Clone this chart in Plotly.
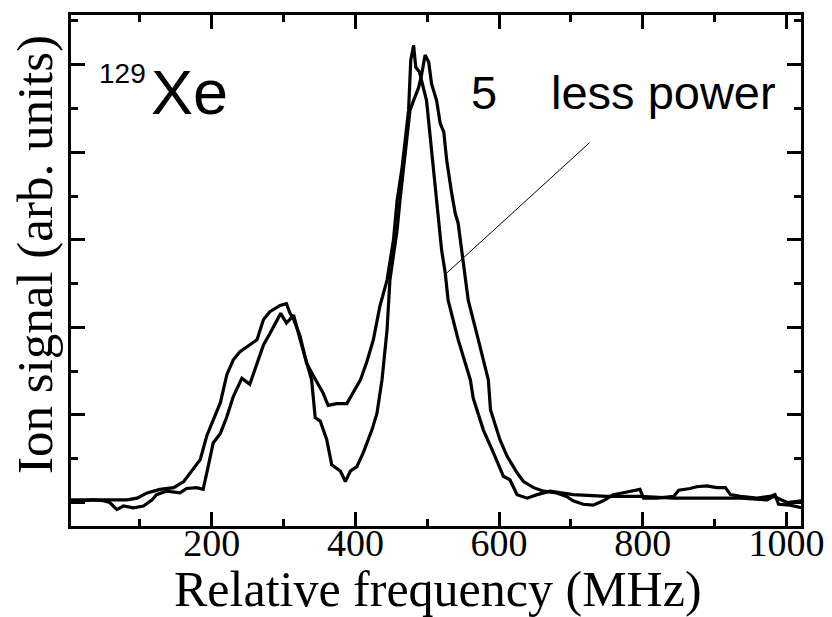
import plotly.graph_objects as go

# ---- data ----
freq_a = [3, 35, 58, 82, 96, 110, 128, 147, 161, 174, 184, 193, 202, 212, 221, 230, 239, 249, 256, 263,
          272, 281, 295, 304, 309, 314, 323, 332, 342, 355, 362, 374, 388, 397, 407, 416, 425, 434, 444,
          453, 458, 465, 469, 474, 477, 481, 484, 489, 499, 506, 513, 520, 525, 529, 543, 560, 564, 578,
          592, 606, 615, 625, 639, 653, 671, 703, 750, 796, 843, 889, 936, 973, 982, 1001, 1021]
signal_a = [0.03, 0.03, 0.03, 0.03, 0.05, 0.11, 0.15, 0.17, 0.24, 0.38, 0.49, 0.76, 0.95, 1.14, 1.46,
            1.63, 1.72, 1.78, 1.82, 1.86, 2.09, 2.18, 2.25, 2.27, 2.16, 2.09, 1.90, 1.59, 1.44, 1.25,
            1.11, 1.13, 1.13, 1.25, 1.40, 1.61, 1.86, 2.24, 2.54, 3.00, 3.45, 3.83, 4.14, 4.48, 5.05,
            5.22, 4.97, 4.92, 4.59, 4.02, 3.45, 2.88, 2.62, 2.31, 1.86, 1.40, 1.19, 0.83, 0.57, 0.30,
            0.26, 0.09, 0.05, 0.09, 0.13, 0.09, 0.07, 0.07, 0.05, 0.05, 0.05, 0.03, 0.07, 0.00, 0.02]

freq_b = [3, 17, 35, 49, 58, 68, 77, 91, 105, 117, 123, 137, 156, 165, 179, 188, 195, 202, 212, 221,
          230, 242, 253, 263, 272, 281, 291, 296, 304, 314, 323, 332, 339, 344, 351, 360, 367, 379, 386,
          393, 402, 411, 423, 430, 437, 444, 448, 452, 458, 462, 467, 472, 476, 481, 488, 492, 497, 502,
          506, 513, 518, 523, 527, 534, 539, 543, 548, 553, 557, 571, 585, 588, 594, 601, 611, 625, 634,
          648, 662, 680, 694, 703, 717, 731, 745, 759, 778, 796, 801, 820, 843, 850, 866, 875, 889, 903,
          915, 922, 936, 959, 977, 984, 989, 1005, 1021]
signal_b = [0.00, 0.02, 0.03, 0.02, 0.00, -0.08, -0.04, -0.06, -0.04, 0.03, 0.09, 0.13, 0.11, 0.16, 0.17,
            0.15, 0.41, 0.68, 0.79, 0.98, 1.21, 1.42, 1.35, 1.59, 1.80, 1.93, 2.09, 2.16, 2.05, 2.14,
            1.86, 1.61, 1.40, 0.97, 0.93, 0.72, 0.43, 0.36, 0.24, 0.36, 0.41, 0.57, 0.83, 1.02, 1.40,
            1.97, 2.54, 2.77, 3.11, 3.45, 3.80, 4.14, 4.48, 4.59, 4.74, 4.88, 5.11, 5.03, 4.78, 4.59,
            4.33, 4.23, 3.91, 3.53, 3.30, 3.19, 2.88, 2.62, 2.31, 1.86, 1.40, 1.06, 0.91, 0.72, 0.53,
            0.34, 0.24, 0.17, 0.13, 0.11, 0.07, 0.02, -0.02, -0.03, 0.02, 0.09, 0.12, 0.15, 0.05, 0.05,
            0.07, 0.14, 0.16, 0.18, 0.19, 0.17, 0.17, 0.09, 0.07, 0.05, 0.07, 0.09, -0.02, -0.03, -0.06]

x_major = [200, 400, 600, 800, 1000]
x_minor = [100, 300, 500, 700, 900]
x_labels = ["200", "400", "600", "800", "1000"]
y_major = [0, 1, 2, 3, 4, 5]
y_minor = [0.5, 1.5, 2.5, 3.5, 4.5, 5.5]

# ---- figure ----
OFF = 8                      # default page body margin
W, H = 832 - OFF, 617 - OFF
L, T = 71 - OFF, 14.5 - OFF
R = W - (800.8 - OFF)
B = H - (526.5 - OFF)
pw, ph = W - L - R, H - T - B

def px(xp):
    return (xp - OFF - L) / pw

def py(yp):
    return (H - B - (yp - OFF)) / ph

fig = go.Figure()
for xs, ys in ((freq_a, signal_a), (freq_b, signal_b)):
    fig.add_trace(go.Scatter(x=xs, y=ys, mode="lines",
                             line=dict(color="black", width=3.2), showlegend=False,
                             hoverinfo="skip"))

axis_common = dict(showline=True, linecolor="black", linewidth=3, mirror="ticks",
                   ticks="inside", ticklen=14, tickwidth=3, tickcolor="black",
                   showgrid=False, zeroline=False)

fig.update_xaxes(range=[4.1, 1020.2], tickmode="array", tickvals=x_major, ticktext=x_labels,
                 tickfont=dict(family="Liberation Serif", size=38, color="black"),
                 ticklabelstandoff=-19,
                 minor=dict(tickmode="array", tickvals=x_minor, ticks="inside", ticklen=7,
                            tickwidth=3, tickcolor="black"),
                 **axis_common)
fig.update_yaxes(range=[-0.268, 5.567], tickmode="array", tickvals=y_major, showticklabels=False,
                 minor=dict(tickmode="array", tickvals=y_minor, ticks="inside", ticklen=7,
                            tickwidth=3, tickcolor="black"),
                 **axis_common)

sans = "Liberation Sans, Arial, sans-serif"
serif = "Liberation Serif, Times New Roman, serif"
annotations = [
    dict(text="Relative frequency (MHz)", x=px(438), y=py(590), xanchor="center", yanchor="middle",
         font=dict(family=serif, size=50, color="black")),
    dict(text="Ion signal (arb. units)", x=px(35), y=py(254), xanchor="center", yanchor="middle",
         textangle=-90, font=dict(family=serif, size=51, color="black")),
    dict(text="Xe", x=px(149), y=py(91.5), xanchor="left", yanchor="middle",
         font=dict(family=sans, size=63, color="black")),
    dict(text="129", x=px(97), y=py(73.3), xanchor="left", yanchor="middle",
         font=dict(family=sans, size=28, color="black")),
    dict(text="5", x=px(469), y=py(92.4), xanchor="left", yanchor="middle",
         font=dict(family=sans, size=47, color="black")),
    dict(text="less power", x=px(548.5), y=py(92.4), xanchor="left", yanchor="middle",
         font=dict(family=sans, size=47, color="black")),
]
for a in annotations:
    a.update(xref="paper", yref="paper", showarrow=False)
fig.update_layout(annotations=annotations)

fig.add_shape(type="line", xref="x", yref="y", x0=527, y0=2.62, x1=726, y1=4.11,
              line=dict(color="black", width=1))

fig.update_layout(width=W, height=H, margin=dict(l=L, r=R, t=T, b=B, autoexpand=False),
                  paper_bgcolor="white", plot_bgcolor="white")

fig.write_html("out.html")
